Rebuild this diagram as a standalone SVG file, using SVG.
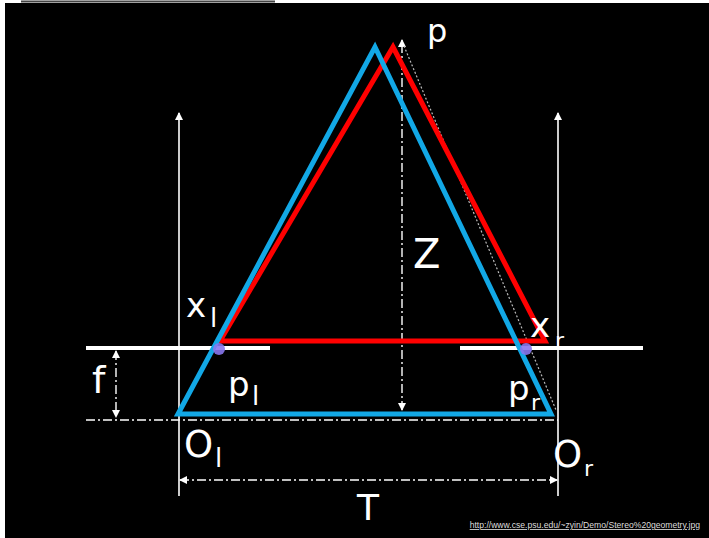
<svg xmlns="http://www.w3.org/2000/svg" width="709" height="538" viewBox="0 0 709 538">
<style>
.lbl{font-family:"DejaVu Sans","Liberation Sans",sans-serif;fill:#fff}
.axis{stroke:#fff;stroke-width:1.6;fill:none}
.dd{stroke:#fff;stroke-width:1.4;fill:none;stroke-dasharray:9 3 2 3}
.plane{stroke:#fff;stroke-width:4;fill:none}
.tri{fill:none;stroke-width:5;stroke-linejoin:miter}
</style>
<defs>
<marker id="ah" markerWidth="8" markerHeight="8" refX="7" refY="4" orient="auto-start-reverse" markerUnits="userSpaceOnUse">
<path d="M0,0 L8,4 L0,8 Z" fill="#fff"/>
</marker>
</defs>
<rect x="0" y="0" width="709" height="538" fill="#fff"/>
<rect x="5" y="3" width="704" height="535" fill="#000"/>
<line x1="21" y1="1.5" x2="275" y2="1.5" stroke="#444" stroke-width="2"/>

<g id="connectors">
<line class="axis" x1="179" y1="496" x2="179" y2="113" marker-end="url(#ah)"/>
<line class="axis" x1="558" y1="496" x2="558" y2="113" marker-end="url(#ah)"/>
<line class="dd" x1="402" y1="410" x2="402" y2="40" marker-start="url(#ah)" marker-end="url(#ah)"/>
<line class="dd" x1="86" y1="420" x2="558" y2="420" stroke-width="1.2"/>
<line class="dd" x1="116" y1="351" x2="116" y2="417" marker-start="url(#ah)" marker-end="url(#ah)"/>
<line class="dd" x1="180" y1="480" x2="557" y2="480" marker-start="url(#ah)" marker-end="url(#ah)"/>
<line x1="404" y1="46" x2="556" y2="410" stroke="#bbb" stroke-width="1.2" stroke-dasharray="2 2"/>
</g>

<g id="image-plane-left"><line class="plane" x1="86" y1="348" x2="270" y2="348"/></g>
<g id="image-plane-right"><line class="plane" x1="460" y1="348" x2="643" y2="348"/></g>

<g id="red-triangle"><polygon class="tri" stroke="#ff0000" points="393,47 545,341 220,341"/></g>
<g id="blue-triangle"><polygon class="tri" stroke="#12a8e6" points="375,47 551,414 178,414"/></g>

<g id="pl-dot"><circle cx="219" cy="349" r="6" fill="#8877ee" opacity="0.9"/></g>
<g id="pr-dot"><circle cx="526" cy="349" r="6" fill="#8877ee" opacity="0.9"/></g>

<g id="labels">
<text class="lbl" x="427" y="42" font-size="32">p</text>
<text class="lbl" x="413" y="268" font-size="40">Z</text>
<text class="lbl" x="186" y="317" font-size="34">x</text>
<text class="lbl" x="210" y="327" font-size="26">l</text>
<text class="lbl" x="530" y="337" font-size="34">x</text>
<text class="lbl" x="555" y="348" font-size="22">r</text>
<text class="lbl" x="92" y="393" font-size="38">f</text>
<text class="lbl" x="228" y="396" font-size="34">p</text>
<text class="lbl" x="252" y="405" font-size="26">l</text>
<text class="lbl" x="508" y="400" font-size="34">p</text>
<text class="lbl" x="531" y="410" font-size="22">r</text>
<text class="lbl" x="184" y="457" font-size="37">O</text>
<text class="lbl" x="215" y="467" font-size="26">l</text>
<text class="lbl" x="553" y="467" font-size="37">O</text>
<text class="lbl" x="584" y="476" font-size="22">r</text>
<text class="lbl" x="357" y="520" font-size="36">T</text>
<text x="700" y="528" text-anchor="end" font-family="Liberation Sans, Arial, sans-serif" font-size="8.6" fill="#ddd" text-decoration="underline">http://www.cse.psu.edu/~zyin/Demo/Stereo%20geometry.jpg</text>
</g>
</svg>
